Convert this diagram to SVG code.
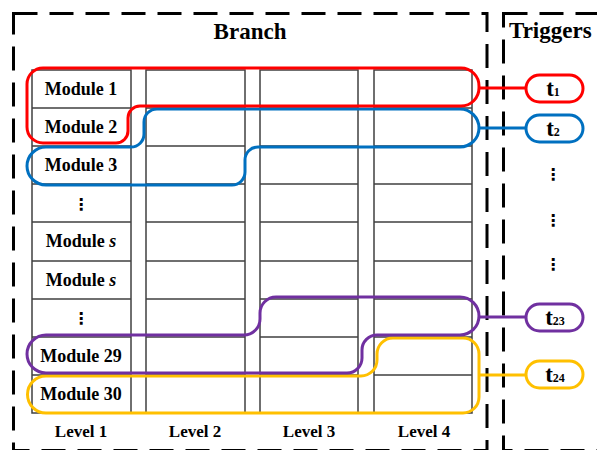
<svg xmlns="http://www.w3.org/2000/svg" width="597" height="450" viewBox="0 0 597 450">
  <style>
    .frame { fill: none; stroke: #000; stroke-width: 3; stroke-dasharray: 24 12; }
    .cell { fill: #fff; stroke: #404040; stroke-width: 1.5; }
    .row { stroke: #404040; stroke-width: 1.5; }
    .title { font-family: "Liberation Serif", "Times New Roman", serif; font-weight: bold; font-size: 23px; fill: #000; }
    .mod { font-family: "Liberation Serif", "Times New Roman", serif; font-weight: bold; font-size: 18px; fill: #000; text-anchor: middle; }
    .lvl { font-family: "Liberation Serif", "Times New Roman", serif; font-weight: bold; font-size: 17px; fill: #000; text-anchor: middle; }
    .dots { font-family: "DejaVu Serif", "DejaVu Sans", serif; font-weight: bold; font-size: 16px; fill: #000; text-anchor: middle; }
    .loop { fill: none; stroke-width: 3; stroke-linejoin: round; }
    .pill { fill: #fff; stroke-width: 3; }
    .plabel { font-family: "Liberation Serif", "Times New Roman", serif; font-weight: bold; fill: #000; text-anchor: middle; }
    .conn { stroke-width: 3; fill: none; }
    .red { stroke: #ff0000; }
    .blue { stroke: #0070c0; }
    .purple { stroke: #7030a0; }
    .orange { stroke: #ffc000; }
  </style>

  <!-- dashed frames -->
  <g id="branch-frame">
    <rect class="frame" x="13.5" y="13.5" width="473.5" height="437"/>
    <text class="title" x="250" y="39" text-anchor="middle">Branch</text>
  </g>
  <g id="triggers-frame">
    <rect class="frame" x="503.5" y="13.5" width="110" height="437"/>
    <text class="title" x="509" y="38">Triggers</text>
  </g>

  <!-- level columns, nine rows each -->
  <g id="grid">
    <rect class="cell" x="32" y="70" width="99" height="343"/>
    <rect class="cell" x="146" y="70" width="99" height="343"/>
    <rect class="cell" x="260" y="70" width="98" height="343"/>
    <rect class="cell" x="374" y="70" width="98" height="343"/>
    <g id="row-lines">
      <path class="row" d="M32 108H131M146 108H245M260 108H358M374 108H472"/>
      <path class="row" d="M32 146H131M146 146H245M260 146H358M374 146H472"/>
      <path class="row" d="M32 184H131M146 184H245M260 184H358M374 184H472"/>
      <path class="row" d="M32 222H131M146 222H245M260 222H358M374 222H472"/>
      <path class="row" d="M32 261H131M146 261H245M260 261H358M374 261H472"/>
      <path class="row" d="M32 299H131M146 299H245M260 299H358M374 299H472"/>
      <path class="row" d="M32 337H131M146 337H245M260 337H358M374 337H472"/>
      <path class="row" d="M32 375H131M146 375H245M260 375H358M374 375H472"/>
    </g>
  </g>

  <!-- module labels in level 1 -->
  <g id="modules">
    <text class="mod" x="81" y="95">Module 1</text>
    <text class="mod" x="81" y="133">Module 2</text>
    <text class="mod" x="81" y="171">Module 3</text>
    <text class="dots" x="81" y="210">⋮</text>
    <text class="mod" x="81" y="247">Module <tspan font-style="italic">s</tspan></text>
    <text class="mod" x="81" y="286">Module <tspan font-style="italic">s</tspan></text>
    <text class="dots" x="81" y="324">⋮</text>
    <text class="mod" x="81" y="362">Module 29</text>
    <text class="mod" x="81" y="400">Module 30</text>
  </g>

  <g id="levels">
    <text class="lvl" x="81" y="437">Level 1</text>
    <text class="lvl" x="195" y="437">Level 2</text>
    <text class="lvl" x="309" y="437">Level 3</text>
    <text class="lvl" x="424" y="437">Level 4</text>
  </g>

  <!-- module groupings -->
  <g id="loop-t24">
    <path class="loop orange" d="M46 376H361A16 16 0 0 0 377 360V354A16 16 0 0 1 393 338H463A16 16 0 0 1 479 354V397A16 16 0 0 1 463 413H46A18.5 18.5 0 0 1 46 376Z"/>
  </g>
  <g id="loop-t23">
    <path class="loop purple" d="M46 335H244A16 16 0 0 0 260 319V313A16 16 0 0 1 276 297H460A19 19 0 0 1 460 335H377A15 15 0 0 0 362 350V358A15 15 0 0 1 347 373H46A19 19 0 0 1 46 335Z"/>
  </g>
  <g id="loop-t2">
    <path class="loop blue" d="M46 147H131A13 13 0 0 0 144 134V122A13 13 0 0 1 157 109H460A19 19 0 0 1 460 147H258A13 13 0 0 0 245 160V172A13 13 0 0 1 232 185H46A19 19 0 0 1 46 147Z"/>
  </g>
  <g id="loop-t1">
    <path class="loop red" d="M43 68H461A18 18 0 0 1 479 86V88A18 18 0 0 1 461 106H140A12 12 0 0 0 128 118V131A12 12 0 0 1 116 143H43A16 16 0 0 1 27 127V84A16 16 0 0 1 43 68Z"/>
  </g>

  <!-- links from groupings to triggers -->
  <g id="connectors">
    <line class="conn red" x1="479" y1="88" x2="526" y2="88"/>
    <line class="conn blue" x1="479" y1="128" x2="526" y2="128"/>
    <line class="conn purple" x1="479" y1="317" x2="526" y2="317"/>
    <line class="conn orange" x1="479" y1="375" x2="526" y2="375"/>
  </g>

  <!-- triggers -->
  <g id="trigger-t1">
    <rect class="pill red" x="526" y="75" width="57" height="27" rx="13.5"/>
    <text class="plabel" x="553" y="96"><tspan font-size="23">t</tspan><tspan font-size="12">1</tspan></text>
  </g>
  <g id="trigger-t2">
    <rect class="pill blue" x="526" y="115" width="57" height="27" rx="13.5"/>
    <text class="plabel" x="553" y="136"><tspan font-size="23">t</tspan><tspan font-size="12">2</tspan></text>
  </g>
  <g id="trigger-dots">
    <text class="dots" x="553" y="180">⋮</text>
    <text class="dots" x="553" y="226">⋮</text>
    <text class="dots" x="553" y="270">⋮</text>
  </g>
  <g id="trigger-t23">
    <rect class="pill purple" x="526" y="304" width="57" height="27" rx="13.5"/>
    <text class="plabel" x="555" y="325"><tspan font-size="23">t</tspan><tspan font-size="12">23</tspan></text>
  </g>
  <g id="trigger-t24">
    <rect class="pill orange" x="526" y="361" width="57" height="27" rx="13.5"/>
    <text class="plabel" x="555" y="382"><tspan font-size="23">t</tspan><tspan font-size="12">24</tspan></text>
  </g>
</svg>
